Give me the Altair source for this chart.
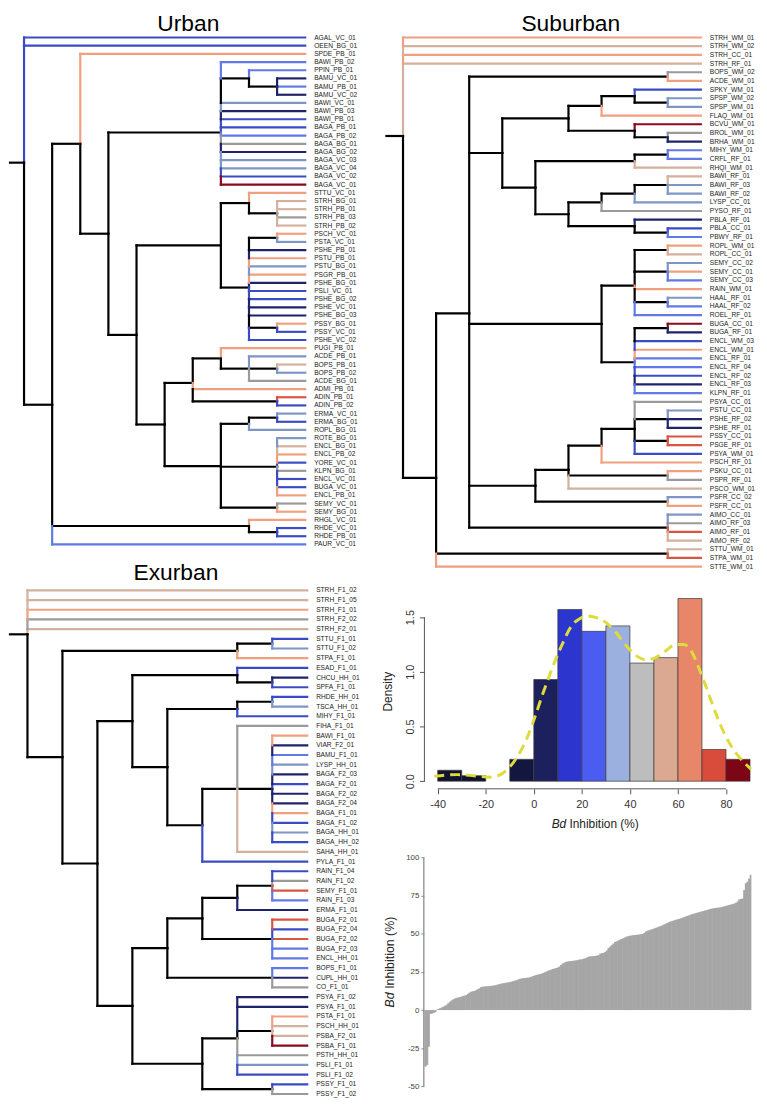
import altair as alt
import pandas as pd

# ---------------------------------------------------------------- data
# Dendrograms: clade level written after each ')' (root = 0); tips sit at the deepest level.
U_BA = ("(BAWI_PB_02,(PPIN_PB_01,(BAMU_VC_01,BAMU_PB_01,BAMU_VC_02)9)8,BAWI_VC_01,BAWI_PB_03,"
        "BAWI_PB_01,BAGA_PB_01,BAGA_PB_02,BAGA_BG_01,BAGA_BG_02,BAGA_VC_03,BAGA_VC_04,BAGA_VC_02,BAGA_VC_01)7")
U_E = ("((STTU_VC_01,(STRH_BG_01,STRH_PB_01,STRH_PB_03,STRH_PB_02)9)8,((PSCH_VC_01,PSTA_VC_01)9,"
       "PSHE_PB_01,PSTU_PB_01,PSTU_BG_01,PSGR_PB_01,PSHE_BG_01,PSLI_VC_01,PSHE_BG_02,PSHE_VC_01,"
       "PSHE_BG_03,(PSSY_BG_01,PSSY_VC_01)9,PSHE_VC_02)8)7")
U_G = "((PUGI_PB_01,(ACDE_PB_01,(BOPS_PB_01,BOPS_PB_02)9,ACDE_BG_01)8)7,ADMI_PB_01,(ADIN_PB_01,ADIN_PB_02)9)6"
U_H = ("(((ERMA_VC_01,ERMA_BG_01)9,ROPL_BG_01)8,(ROTE_BG_01,ENCL_BG_01,ENCL_PB_02,YORE_VC_01,"
       "KLPN_BG_01,ENCL_VC_01,BUGA_VC_01,ENCL_PB_01)9,(SEMY_VC_01,SEMY_BG_01)9)7")
U_RH = "(RHGL_VC_01,(RHDE_VC_01,RHDE_PB_01)9)8"
URBAN_NEWICK = ("(AGAL_VC_01,OEEN_BG_01,((SPDE_PB_01,(" + U_BA + ",(" + U_E + ",(" + U_G + "," + U_H
                + ")5)4)3)2," + U_RH + ",PAUR_VC_01)1)0")
URBAN_TIP_LEVEL = 10
URBAN_COLORS = ("B B O L L N L N S N B B L G N S S B D O T T G T O S N O S O "
                "N B B N N O B B O S T S G O R B S B S S T O B G B B O G O O B B L").split()

S_U = "(((SPKY_WM_01,(SPSP_WM_02,SPSP_WM_01)8)7,FLAQ_WM_01)6,(BCVU_WM_01,(BROL_WM_01,BRHA_WM_01)8)7)5"
S_V = ("(((MIHY_WM_01,CRFL_RF_01)8,RHQI_WM_01)7,((((BAWI_RF_01,BAWI_RF_03,BAWI_RF_02)8,LYSP_CC_01)7,"
       "PYSO_RF_01)6,(PBLA_RF_01,(PBLA_CC_01,PBWY_RF_01)8)7)5)4")
S_S = ("(((ROPL_WM_01,ROPL_CC_01)8,(SEMY_CC_02,SEMY_CC_01,SEMY_CC_03)8,RAIN_WM_01,(HAAL_RF_01,HAAL_RF_02)8,"
       "ROEL_RF_01)7,((BUGA_CC_01,BUGA_RF_01)8,ENCL_WM_03,ENCL_WM_01,ENCL_RF_01,ENCL_RF_04,ENCL_RF_02,"
       "ENCL_RF_03,KLPN_RF_01)7)6")
S_T = ("((((PSYA_CC_01,(PSTU_CC_01,PSHE_RF_02,PSHE_RF_01)8,(PSSY_CC_01,PSGE_RF_01)8,PSYA_WM_01)7,"
       "PSCH_RF_01)6,(PSKU_CC_01,PSPR_RF_01)8,PSCO_WM_01)5,(PSFR_CC_02,PSFR_CC_01)8)4")
SUBURBAN_NEWICK = ("(STRH_WM_01,STRH_WM_02,STRH_CC_01,STRH_RF_01,(((BOPS_WM_02,ACDE_WM_01)8,(" + S_U + ","
                   + S_V + ")3," + S_S + "," + S_T + ",(AIMO_CC_01,AIMO_RF_03,AIMO_RF_01,AIMO_RF_02)8)2,"
                   "(STTU_WM_01,STPA_WM_01)8,STTE_WM_01)1)0")
SUBURBAN_TIP_LEVEL = 9
SUBURBAN_COLORS = ("O T O T G O B S S O D G N L L T T S S S G N B L O T S O L O "
                   "S L L D N B O L L B N L G S N N R R B O O G T S O S G R T T R O").split()

E_ST = "((STTU_F1_01,STTU_F1_02)7,STPA_F1_01)6"
E_A3 = ("((ESAD_F1_01,(CHCU_HH_01,SPFA_F1_01)7)6,(((RHDE_HH_01,TSCA_HH_01)7,MIHY_F1_01)6,((FIHA_F1_01,"
        "(BAWI_F1_01,VIAR_F2_01,BAMU_F1_01,LYSP_HH_01,BAGA_F2_03,BAGA_F2_01,BAGA_F2_02,BAGA_F2_04,"
        "BAGA_F1_01,BAGA_F1_02,BAGA_HH_01,BAGA_HH_02)7,SAHA_HH_01)6,PYLA_F1_01)5)4)3")
E_A4 = ("(((((RAIN_F1_04,RAIN_F1_02,SEMY_F1_01,RAIN_F1_03)7,ERMA_F1_01)6,(BUGA_F2_01,BUGA_F2_04,"
        "BUGA_F2_02,BUGA_F2_03,ENCL_HH_01)7)5,(BOPS_F1_01,CUPL_HH_01,CO_F1_01)7)4,((PSYA_F1_02,PSYA_F1_01,"
        "(PSTA_F1_01,PSCH_HH_01,PSBA_F2_01,PSBA_F1_01)7,PSTH_HH_01,PSLI_F1_01,PSLI_F1_02)6,"
        "(PSSY_F1_01,PSSY_F1_02)7)5)3")
EXURBAN_NEWICK = ("(STRH_F1_02,STRH_F1_05,STRH_F1_01,STRH_F2_02,STRH_F2_01,(" + E_ST + ",(" + E_A3 + ","
                  + E_A4 + ")2)1)0")
EXURBAN_TIP_LEVEL = 8
EXURBAN_COLORS = ("T T O G T B S O B N B B S B G O N L S N B N N O B S B T B B "
                  "G R L N R B R L L L N G N N O T T D G S B B G").split()

# Histogram of Bd inhibition (density per bin)
HIST_BIN_START = [-40, -30, -10, 0, 10, 20, 30, 40, 50, 60, 70, 80]
HIST_BIN_END = [-30, -20, 0, 10, 20, 30, 40, 50, 60, 70, 80, 90]
HIST_DENSITY = [0.10, 0.05, 0.20, 0.93, 1.57, 1.37, 1.42, 1.08, 1.13, 1.67, 0.29, 0.20]
HIST_COLORS = ["#10122f", "#10122f", "#13173f", "#1c205d", "#2c36cf", "#4a5df0", "#9bb0de",
               "#bdbdbd", "#dba892", "#e8866a", "#d94c3c", "#7c0516"]
KDE_X = [-41.4, -31.8, -24.9, -18.0, -13.9, -9.8, -5.6, -2.9, 0.5, 4.0, 8.1, 12.2, 15.7, 19.1, 22.5,
         26.0, 30.1, 34.2, 38.4, 42.5, 46.6, 50.7, 54.8, 59.0, 62.4, 65.8, 68.6, 72.0, 75.5, 79.6,
         83.7, 87.8, 90.4]
KDE_Y = [0.045, 0.06, 0.05, 0.036, 0.06, 0.136, 0.27, 0.39, 0.59, 0.815, 1.057, 1.27, 1.42, 1.485,
         1.51, 1.495, 1.45, 1.36, 1.24, 1.15, 1.11, 1.13, 1.19, 1.25, 1.25, 1.18, 1.04, 0.845, 0.634,
         0.423, 0.27, 0.166, 0.11]

# Sorted Bd inhibition per sample
INHIBITION_SORTED = [
    -37.0, -36.0, -24.0, -2.6, -2.3, -1.9, -1.4,
    0.3, 0.8, 1.2, 1.7, 2.2, 2.8, 3.5, 4.5, 5.5, 6.3, 7.0, 7.5, 8.0, 8.2, 8.5, 8.8, 9.2, 9.5, 9.8,
    10.6, 11.4, 12.0, 12.3, 12.5, 13.0, 13.6, 14.2, 15.0, 15.3, 15.4, 15.5, 15.6, 15.7, 15.8, 15.9,
    16.1, 16.3, 16.6, 16.9, 17.2, 17.4, 17.6, 17.8, 18.0, 18.2, 18.4, 18.7, 19.0, 19.3, 19.6,
    20.2, 20.5, 20.7, 20.9, 21.0, 21.1, 21.2, 21.5, 21.9, 22.3, 22.7, 23.0, 23.3, 23.5, 23.8, 24.2,
    24.7, 25.2, 25.7, 26.1, 26.5, 26.9, 27.2, 27.5, 27.8, 28.5, 29.5,
    30.5, 31.0, 31.5, 31.8, 32.0, 32.1, 32.2, 32.3, 32.5, 32.7, 33.0, 33.1, 33.3, 33.6, 34.0, 34.5,
    35.0, 35.1, 35.2, 35.3, 35.4, 35.6, 36.0, 37.0, 37.2, 37.4, 38.0, 39.0,
    40.5, 41.5, 42.5, 43.5, 44.5, 45.0, 45.5, 46.0, 46.5, 47.0, 47.5, 48.0, 48.3, 48.6, 48.8, 49.0,
    49.1, 49.2, 49.3, 49.5, 49.7, 49.9,
    50.5, 51.5, 52.0, 52.3, 52.6, 53.0, 53.4, 53.8, 54.2, 54.6, 55.0, 55.5, 56.0, 56.5, 57.0, 57.5,
    58.0, 58.3, 58.6, 59.0, 59.3, 59.6, 59.9,
    60.3, 60.7, 61.1, 61.5, 61.9, 62.3, 62.7, 63.0, 63.3, 63.6, 63.9, 64.2, 64.5, 64.8, 65.1, 65.4,
    65.7, 66.0, 66.3, 66.5, 66.7, 66.9, 67.0, 67.1, 67.3, 67.6, 67.9, 68.2, 68.5, 68.8, 69.1, 69.4, 69.7,
    70.2, 71.0, 72.4, 72.7, 73.0, 78.5,
    83.0, 84.0, 86.0, 88.5,
]

# ---------------------------------------------------------------- styles / layout constants
FONT = "Liberation Sans"
BLACK = "#000000"
PALETTE = {"N": "#1f2369", "B": "#3b4bc6", "L": "#6079e6", "S": "#7d96c6", "G": "#9a9a9a",
           "T": "#d4b09e", "O": "#f0a07e", "R": "#d85540", "D": "#880a1c"}
ROOT_EDGE = 0.5
LINE_W = 2.2
BAR_OVERLAP = 0.35       # rect overlap (in bar widths) to hide anti-aliasing seams
OX, OY = 8, 8            # page position of the canvas origin
CW, CH = 758, 1094       # canvas size


def parse_newick(s):
    pos = 0

    def node():
        nonlocal pos
        if s[pos] == "(":
            pos += 1
            kids = [node()]
            while s[pos] == ",":
                pos += 1
                kids.append(node())
            assert s[pos] == ")", s[max(0, pos - 30):pos + 5]
            pos += 1
            start = pos
            while pos < len(s) and s[pos].isdigit():
                pos += 1
            return {"kids": kids, "level": float(s[start:pos])}
        start = pos
        while pos < len(s) and s[pos] not in ",()":
            pos += 1
        return {"kids": [], "name": s[start:pos]}

    return node()


def tree_layout(newick, codes, tip_level):
    root = parse_newick(newick)
    tips = []

    def place(n):
        if not n["kids"]:
            tips.append(n)
            n["y"] = float(len(tips))
            n["level"] = float(tip_level)
            n["col"] = PALETTE[codes[len(tips) - 1]]
            return
        for k in n["kids"]:
            place(k)
        n["y"] = sum(k["y"] for k in n["kids"]) / len(n["kids"])
        n["col"] = BLACK

    place(root)
    assert len(tips) == len(codes), (len(tips), len(codes))
    hs, vs = [], []

    def walk(n):
        if not n["kids"]:
            return
        for k in n["kids"]:
            hs.append((n["level"], k["level"], k["y"], k["y"], k["col"]))
        up = sorted([k for k in n["kids"] if k["y"] < n["y"]], key=lambda k: -k["y"])
        dn = sorted([k for k in n["kids"] if k["y"] > n["y"]], key=lambda k: k["y"])
        for grp in (up, dn):
            prev = n["y"]
            for k in grp:
                vs.append((n["level"], n["level"], prev, k["y"], k["col"]))
                prev = k["y"]
        for k in n["kids"]:
            walk(k)

    walk(root)
    stub = [(root["level"] - ROOT_EDGE, root["level"], root["y"], root["y"], BLACK)]
    segs = pd.DataFrame(hs + vs + stub, columns=["x", "x2", "y", "y2", "col"])
    labels = pd.DataFrame({"name": [t["name"] for t in tips],
                           "x": [t["level"] for t in tips],
                           "y": [t["y"] for t in tips]})
    return segs, labels


def span(c0, c1, p_a, v_a, p_b, v_b):
    k = (v_b - v_a) / (p_b - p_a)
    return [v_a + (c0 - p_a) * k, v_a + (c1 - p_a) * k]


def xs_(p_a, v_a, p_b, v_b):
    return alt.Scale(domain=span(OX, OX + CW, p_a, v_a, p_b, v_b), nice=False, zero=False)


def ys_down(p_a, v_a, p_b, v_b):
    return alt.Scale(domain=span(OY, OY + CH, p_a, v_a, p_b, v_b), nice=False, zero=False, reverse=True)


def ys_up(p_a, v_a, p_b, v_b):
    return alt.Scale(domain=span(OY + CH, OY, p_a, v_a, p_b, v_b), nice=False, zero=False)


def text_layer(t, x, y, size, **kw):
    return alt.Chart(pd.DataFrame({"t": [t]})).mark_text(fontSize=size, font=FONT, **kw).encode(
        x=alt.value(x - OX), y=alt.value(y - OY), text="t:N")


def tree_layers(newick, codes, tip_level, xa, ya, title, tpos, fs=6.7):
    segs, labels = tree_layout(newick, codes, tip_level)
    rules = alt.Chart(segs).mark_rule(strokeWidth=LINE_W, strokeCap="square").encode(
        x=alt.X("x:Q", scale=xs_(*xa), axis=None), x2="x2:Q",
        y=alt.Y("y:Q", scale=ys_down(*ya), axis=None), y2="y2:Q",
        color=alt.Color("col:N", scale=None))
    text = alt.Chart(labels).mark_text(align="left", baseline="middle", dx=9, fontSize=fs,
                                       font=FONT, color="#222222").encode(
        x=alt.X("x:Q", scale=xs_(*xa), axis=None), y=alt.Y("y:Q", scale=ys_down(*ya), axis=None),
        text="name:N")
    ttl = text_layer(title, tpos[0], tpos[1], 23, align="center", baseline="alphabetic", color="black")
    return [rules, text, ttl]


layers = []
layers += tree_layers(URBAN_NEWICK, URBAN_COLORS, URBAN_TIP_LEVEL,
                      (10, -0.5, 308, URBAN_TIP_LEVEL), (32.7, 1, 544.3, len(URBAN_COLORS)),
                      "Urban", (190, 26.5))
layers += tree_layers(SUBURBAN_NEWICK, SUBURBAN_COLORS, SUBURBAN_TIP_LEVEL,
                      (390, -0.5, 707.3, SUBURBAN_TIP_LEVEL), (32.7, 1, 566.7, len(SUBURBAN_COLORS)),
                      "Suburban", (576, 26.5))
layers += tree_layers(EXURBAN_NEWICK, EXURBAN_COLORS, EXURBAN_TIP_LEVEL,
                      (10, -0.5, 310, EXURBAN_TIP_LEVEL), (590.7, 1, 1099, len(EXURBAN_COLORS)),
                      "Exurban", (177.5, 580))

# ---------------------------------------------------------------- histogram
HX_AXIS_Y = 791.0     # page y of the x axis line
HY_AXIS_X = 428.3     # page x of the y axis line
hx = xs_(441.7, -40, 732.7, 80)
hy = ys_up(783.3, 0, 617.7, 1.5)
hist_df = pd.DataFrame({"x0": HIST_BIN_START, "x1": HIST_BIN_END, "d": HIST_DENSITY,
                        "col": HIST_COLORS, "z": [0.0] * len(HIST_DENSITY)})
layers.append(alt.Chart(hist_df).mark_rect(stroke="#3a3a3a", strokeWidth=0.7).encode(
    x=alt.X("x0:Q", scale=hx, axis=alt.Axis(
        orient="bottom", offset=-(OY + CH - HX_AXIS_Y),
        values=[-40, -20, 0, 20, 40, 60, 80], domain=False, grid=False, tickSize=5,
        tickColor="#555555", labelFontSize=11, labelColor="#333333", labelFont=FONT,
        labelPadding=5, title=None, labelExpr="toString(datum.value)")),
    x2="x1:Q",
    y=alt.Y("d:Q", scale=hy, axis=alt.Axis(
        orient="left", offset=-(HY_AXIS_X - OX),
        values=[0, 0.5, 1.0, 1.5], domain=False, grid=False, tickSize=5, tickColor="#555555",
        labelFontSize=11, labelColor="#333333", labelFont=FONT, labelAngle=270,
        labelAlign="center", labelBaseline="bottom", labelPadding=4,
        labelExpr="format(datum.value, '.1f')", title=None)),
    y2="z:Q",
    color=alt.Color("col:N", scale=None)))
layers.append(alt.Chart(pd.DataFrame({"kx": KDE_X, "ky": KDE_Y})).mark_line(
    color="#dedb3c", strokeWidth=3, strokeDash=[10, 6], interpolate="monotone").encode(
    x=alt.X("kx:Q", scale=hx, axis=None), y=alt.Y("ky:Q", scale=hy, axis=None)))
layers.append(alt.Chart(pd.DataFrame({"a": [-40], "b": [80]})).mark_rule(
    color="#555555", strokeWidth=1).encode(
    x=alt.X("a:Q", scale=hx, axis=None), x2="b:Q", y=alt.value(HX_AXIS_Y - OY)))
layers.append(alt.Chart(pd.DataFrame({"c": [0.0], "e": [1.5]})).mark_rule(
    color="#555555", strokeWidth=1).encode(
    y=alt.Y("c:Q", scale=hy, axis=None), y2="e:Q", x=alt.value(HY_AXIS_X - OX)))
layers.append(text_layer("Density", 392, 693, 12, angle=270, align="center", baseline="middle",
                         color="#222222"))
layers.append(text_layer("Bd", 556.7, 831, 12, align="left", baseline="alphabetic",
                         fontStyle="italic", color="#222222"))
layers.append(text_layer("Inhibition (%)", 574.7, 831, 12, align="left", baseline="alphabetic",
                         color="#222222"))

# ---------------------------------------------------------------- sorted bars
BY_AXIS_X = 427.7
n = len(INHIBITION_SORTED)
bar_df = pd.DataFrame({"i": list(range(n)),
                       "i1": [min(k + 1 + BAR_OVERLAP, n) for k in range(n)],
                       "v": INHIBITION_SORTED, "z": [0.0] * n})
bx = xs_(428.3, 0, 758.3, n)
by = ys_up(1014.3, 0, 860, 100)
layers.append(alt.Chart(bar_df).mark_rect(color="#a6a6a6").encode(
    x=alt.X("i:Q", scale=bx, axis=None), x2="i1:Q",
    y=alt.Y("v:Q", scale=by, axis=alt.Axis(
        orient="left", offset=-(BY_AXIS_X - OX),
        values=[-50, -25, 0, 25, 50, 75, 100], grid=False, domain=False,
        tickColor="#8a8a8a", tickSize=3, labelFontSize=8, labelColor="#444444", labelFont=FONT,
        labelPadding=2, title=None, labelExpr="toString(datum.value)")),
    y2="z:Q"))
layers.append(alt.Chart(pd.DataFrame({"c": [-50.0], "e": [100.0]})).mark_rule(
    color="#8a8a8a", strokeWidth=1.3).encode(
    y=alt.Y("c:Q", scale=by, axis=None), y2="e:Q", x=alt.value(BY_AXIS_X - OX)))
layers.append(text_layer("Bd", 393.3, 1011.7, 12.5, angle=270, align="left", baseline="middle",
                         fontStyle="italic", color="#222222"))
layers.append(text_layer("Inhibition (%)", 393.3, 992.9, 12.5, angle=270, align="left",
                         baseline="middle", color="#222222"))

chart = (alt.layer(*layers)
         .resolve_scale(x="independent", y="independent")
         .properties(width=CW, height=CH, padding=0)
         .configure_view(stroke=None))

chart.save("out.html", embed_options={"renderer": "svg", "actions": False})
